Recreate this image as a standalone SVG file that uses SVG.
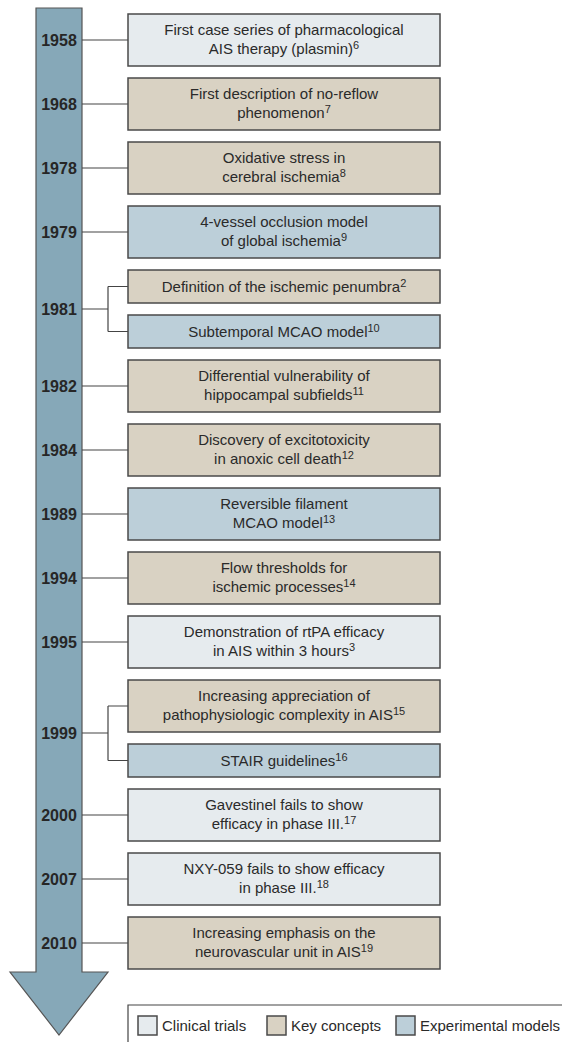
<svg xmlns="http://www.w3.org/2000/svg" width="562" height="1042" viewBox="0 0 562 1042">
<style>
  .box { stroke: #4a4a4a; stroke-width: 1.5; }
  .ct { fill: #e6ebee; }
  .kc { fill: #d9d2c3; }
  .em { fill: #bccfd9; }
  .t { font-family: "Liberation Sans", Arial, sans-serif; font-size: 15px; fill: #2a2a2a; text-anchor: middle; }
  .yr { font-family: "Liberation Sans", Arial, sans-serif; font-size: 16px; font-weight: bold; fill: #262626; text-anchor: middle; }
  .sup { font-size: 11px; }
  .lg { font-family: "Liberation Sans", Arial, sans-serif; font-size: 15px; fill: #2a2a2a; }
  .conn { stroke: #444; stroke-width: 1.2; fill: none; }
</style>
<rect width="562" height="1042" fill="#ffffff"/>
<g id="timeline-arrow">
  <path d="M36,8 H82 V972 H108 L59,1035 L10,972 H36 Z" fill="#86a8b8" stroke="#555" stroke-width="1.2"/>
</g>
<g id="connectors">
  <path class="conn" d="M82,40 H128"/>
  <path class="conn" d="M82,104 H128"/>
  <path class="conn" d="M82,168 H128"/>
  <path class="conn" d="M82,232 H128"/>
  <path class="conn" d="M82,309 H108 M108,286.5 V331.5 M108,286.5 H128 M108,331.5 H128"/>
  <path class="conn" d="M82,386 H128"/>
  <path class="conn" d="M82,450 H128"/>
  <path class="conn" d="M82,514 H128"/>
  <path class="conn" d="M82,578 H128"/>
  <path class="conn" d="M82,642 H128"/>
  <path class="conn" d="M82,733 H108 M108,706 V760.5 M108,706 H128 M108,760.5 H128"/>
  <path class="conn" d="M82,815 H128"/>
  <path class="conn" d="M82,879 H128"/>
  <path class="conn" d="M82,943 H128"/>
</g>
<g id="years">
  <text class="yr" x="59" y="46">1958</text>
  <text class="yr" x="59" y="110">1968</text>
  <text class="yr" x="59" y="174">1978</text>
  <text class="yr" x="59" y="238">1979</text>
  <text class="yr" x="59" y="315">1981</text>
  <text class="yr" x="59" y="392">1982</text>
  <text class="yr" x="59" y="456">1984</text>
  <text class="yr" x="59" y="520">1989</text>
  <text class="yr" x="59" y="584">1994</text>
  <text class="yr" x="59" y="648">1995</text>
  <text class="yr" x="59" y="739">1999</text>
  <text class="yr" x="59" y="821">2000</text>
  <text class="yr" x="59" y="885">2007</text>
  <text class="yr" x="59" y="949">2010</text>
</g>
<g id="n1958">
  <rect class="box ct" x="128" y="14" width="312" height="52"/>
  <text class="t" x="284" y="35">First case series of pharmacological</text>
  <text class="t" x="284" y="54">AIS therapy (plasmin)<tspan class="sup" dy="-5">6</tspan></text>
</g>
<g id="n1968">
  <rect class="box kc" x="128" y="78" width="312" height="52"/>
  <text class="t" x="284" y="99">First description of no-reflow</text>
  <text class="t" x="284" y="118">phenomenon<tspan class="sup" dy="-5">7</tspan></text>
</g>
<g id="n1978">
  <rect class="box kc" x="128" y="142" width="312" height="52"/>
  <text class="t" x="284" y="163">Oxidative stress in</text>
  <text class="t" x="284" y="182">cerebral ischemia<tspan class="sup" dy="-5">8</tspan></text>
</g>
<g id="n1979">
  <rect class="box em" x="128" y="206" width="312" height="52"/>
  <text class="t" x="284" y="227">4-vessel occlusion model</text>
  <text class="t" x="284" y="246">of global ischemia<tspan class="sup" dy="-5">9</tspan></text>
</g>
<g id="n1981a">
  <rect class="box kc" x="128" y="270" width="312" height="33"/>
  <text class="t" x="284" y="292">Definition of the ischemic penumbra<tspan class="sup" dy="-5">2</tspan></text>
</g>
<g id="n1981b">
  <rect class="box em" x="128" y="315" width="312" height="33"/>
  <text class="t" x="284" y="337">Subtemporal MCAO model<tspan class="sup" dy="-5">10</tspan></text>
</g>
<g id="n1982">
  <rect class="box kc" x="128" y="360" width="312" height="52"/>
  <text class="t" x="284" y="381">Differential vulnerability of</text>
  <text class="t" x="284" y="400">hippocampal subfields<tspan class="sup" dy="-5">11</tspan></text>
</g>
<g id="n1984">
  <rect class="box kc" x="128" y="424" width="312" height="52"/>
  <text class="t" x="284" y="445">Discovery of excitotoxicity</text>
  <text class="t" x="284" y="464">in anoxic cell death<tspan class="sup" dy="-5">12</tspan></text>
</g>
<g id="n1989">
  <rect class="box em" x="128" y="488" width="312" height="52"/>
  <text class="t" x="284" y="509">Reversible filament</text>
  <text class="t" x="284" y="528">MCAO model<tspan class="sup" dy="-5">13</tspan></text>
</g>
<g id="n1994">
  <rect class="box kc" x="128" y="552" width="312" height="52"/>
  <text class="t" x="284" y="573">Flow thresholds for</text>
  <text class="t" x="284" y="592">ischemic processes<tspan class="sup" dy="-5">14</tspan></text>
</g>
<g id="n1995">
  <rect class="box ct" x="128" y="616" width="312" height="52"/>
  <text class="t" x="284" y="637">Demonstration of rtPA efficacy</text>
  <text class="t" x="284" y="656">in AIS within 3 hours<tspan class="sup" dy="-5">3</tspan></text>
</g>
<g id="n1999a">
  <rect class="box kc" x="128" y="680" width="312" height="52"/>
  <text class="t" x="284" y="701">Increasing appreciation of</text>
  <text class="t" x="284" y="720">pathophysiologic complexity in AIS<tspan class="sup" dy="-5">15</tspan></text>
</g>
<g id="n1999b">
  <rect class="box em" x="128" y="744" width="312" height="33"/>
  <text class="t" x="284" y="766">STAIR guidelines<tspan class="sup" dy="-5">16</tspan></text>
</g>
<g id="n2000">
  <rect class="box ct" x="128" y="789" width="312" height="52"/>
  <text class="t" x="284" y="810">Gavestinel fails to show</text>
  <text class="t" x="284" y="829">efficacy in phase III.<tspan class="sup" dy="-5">17</tspan></text>
</g>
<g id="n2007">
  <rect class="box ct" x="128" y="853" width="312" height="52"/>
  <text class="t" x="284" y="874">NXY-059 fails to show efficacy</text>
  <text class="t" x="284" y="893">in phase III.<tspan class="sup" dy="-5">18</tspan></text>
</g>
<g id="n2010">
  <rect class="box kc" x="128" y="917" width="312" height="52"/>
  <text class="t" x="284" y="938">Increasing emphasis on the</text>
  <text class="t" x="284" y="957">neurovascular unit in AIS<tspan class="sup" dy="-5">19</tspan></text>
</g>
<g id="legend">
  <path d="M128,1042 V1005 H562" stroke="#444" stroke-width="1.2" fill="none"/>
  <rect class="box ct" x="138" y="1016" width="19" height="19" stroke-width="1"/>
  <text class="lg" x="162" y="1031">Clinical trials</text>
  <rect class="box kc" x="267" y="1016" width="19" height="19" stroke-width="1"/>
  <text class="lg" x="291" y="1031">Key concepts</text>
  <rect class="box em" x="396" y="1016" width="19" height="19" stroke-width="1"/>
  <text class="lg" x="420" y="1031">Experimental models</text>
</g>
</svg>
